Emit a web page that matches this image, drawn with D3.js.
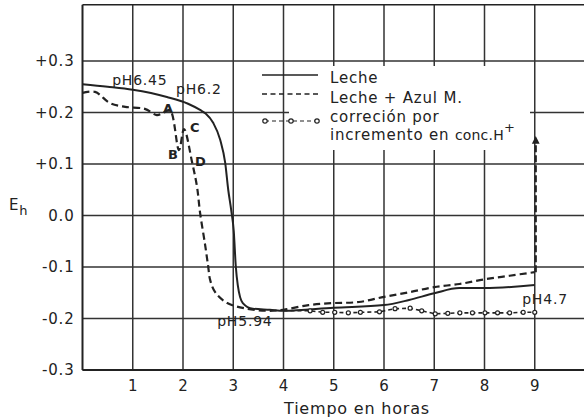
<!DOCTYPE html>
<html>
<head>
<meta charset="utf-8">
<script src="https://cdn.jsdelivr.net/npm/d3@7"></script>
<style>
  body { margin: 0; background: #fff; }
  text { font-family: "DejaVu Sans", sans-serif; fill: #222; letter-spacing: 0.8px; }
</style>
</head>
<body>
<div id="chart"></div>
<script>
const width = 584, height = 419;

// Leche (solid)
const lecheT = [0, 0.5, 1.0, 1.68, 2.1, 2.34, 2.45, 2.6, 2.74, 2.84, 2.9, 2.96, 3.01, 3.05, 3.09, 3.19, 3.39, 3.73, 4.0, 5.0, 6.0, 6.5, 7.0, 7.5, 8.0, 9.0];
const lecheV = [0.255, 0.25, 0.244, 0.230, 0.217, 0.205, 0.198, 0.180, 0.147, 0.102, 0.05, 0.01, -0.03, -0.098, -0.135, -0.170, -0.181, -0.183, -0.185, -0.179, -0.174, -0.164, -0.151, -0.141, -0.141, -0.135];

// Leche + Azul M. (dashed)
const azulT = [0, 0.25, 0.55, 0.85, 1.24, 1.48, 1.6, 1.74, 1.92, 2.02, 2.18, 2.28, 2.34, 2.44, 2.5, 2.54, 2.64, 2.88, 3.27, 3.67, 4.0, 4.5, 5.0, 5.5, 6.0, 6.5, 7.0, 7.5, 8.0, 8.5, 9.0];
const azulV = [0.238, 0.240, 0.218, 0.211, 0.207, 0.195, 0.199, 0.205, 0.127, 0.168, 0.104, 0.055, 0.005, -0.057, -0.098, -0.125, -0.149, -0.170, -0.181, -0.185, -0.183, -0.174, -0.170, -0.168, -0.158, -0.149, -0.139, -0.133, -0.124, -0.117, -0.110];

// correccion por incremento en conc. H+ (o--o--o)
const corrT = [4.0, 4.53, 4.78, 5.02, 5.29, 5.53, 5.91, 6.22, 6.52, 6.75, 7.02, 7.27, 7.51, 7.76, 8.01, 8.26, 8.5, 8.77, 9.0];
const corrV = [-0.185, -0.185, -0.188, -0.188, -0.189, -0.188, -0.187, -0.181, -0.180, -0.185, -0.191, -0.190, -0.189, -0.189, -0.189, -0.189, -0.189, -0.188, -0.188];

// jump at 9 h
const jumpT = [9, 9];
const jumpV = [-0.110, 0.147];

const xTicks = [1, 2, 3, 4, 5, 6, 7, 8, 9];
const yTicks = [-0.3, -0.2, -0.1, 0.0, 0.1, 0.2, 0.3];
const yTickLabels = ["-0.3", "-0.2", "-0.1", "0.0", "+0.1", "+0.2", "+0.3"];

const noteT = [0.59, 1.86, 2.68, 8.75, 1.60, 1.70, 2.14, 2.24];
const noteV = [0.253, 0.236, -0.215, -0.172, 0.199, 0.110, 0.162, 0.096];
const noteText = ["pH6.45", "pH6.2", "pH5.94", "pH4.7", "A", "B", "C", "D"];

const x = d3.scaleLinear().domain([0, 10]).range([82.5, 585]);
const y = d3.scaleLinear().domain([-0.3, 0.3]).range([370, 61]);
const yTop = 0.409;

const svg = d3.select("#chart").append("svg")
  .attr("width", width)
  .attr("height", height);

const ink = "#222";

// grid
svg.append("g").selectAll("line").data(xTicks).enter().append("line")
  .attr("x1", d => x(d)).attr("x2", d => x(d))
  .attr("y1", y(yTop)).attr("y2", y(-0.3))
  .attr("stroke", "#333").attr("stroke-width", 1.5);

svg.append("g").selectAll("line").data(yTicks).enter().append("line")
  .attr("x1", x(0)).attr("x2", width)
  .attr("y1", d => y(d)).attr("y2", d => y(d))
  .attr("stroke", "#333").attr("stroke-width", 1.5);

// frame
svg.append("line").attr("x1", x(0)).attr("x2", x(0)).attr("y1", y(yTop)).attr("y2", y(-0.3))
  .attr("stroke", ink).attr("stroke-width", 2);
svg.append("line").attr("x1", x(0)).attr("x2", width).attr("y1", y(yTop)).attr("y2", y(yTop))
  .attr("stroke", ink).attr("stroke-width", 1.5);
svg.append("line").attr("x1", x(0)).attr("x2", width).attr("y1", y(-0.3)).attr("y2", y(-0.3))
  .attr("stroke", ink).attr("stroke-width", 2);

// legend box (hides the grid behind it)
svg.append("rect")
  .attr("x", 289).attr("y", 66).attr("width", 241).attr("height", 84)
  .attr("fill", "#fff");

// axes labels
const yAxis = d3.axisLeft(y).tickValues(yTicks)
  .tickFormat((d, i) => yTickLabels[i]).tickSize(0).tickPadding(8);
const gy = svg.append("g").attr("transform", `translate(${x(0)},0)`).call(yAxis);
gy.select(".domain").remove();
gy.selectAll("text").attr("font-size", 15).attr("font-family", null).attr("fill", null);

const xAxis = d3.axisBottom(x).tickValues(xTicks).tickFormat(d3.format("d")).tickSize(0).tickPadding(10);
const gx = svg.append("g").attr("transform", `translate(0,${y(-0.3)})`).call(xAxis);
gx.select(".domain").remove();
gx.selectAll("text").attr("font-size", 15).attr("font-family", null).attr("fill", null);

svg.append("text").attr("x", 357).attr("y", 414).attr("text-anchor", "middle")
  .attr("font-size", 16).text("Tiempo en horas");

const eh = svg.append("text").attr("x", 9).attr("y", 210).attr("font-size", 15);
eh.append("tspan").text("E");
eh.append("tspan").attr("dy", 5).attr("font-size", 13).text("h");

// curves
const lecheData = lecheT.map((t, i) => [t, lecheV[i]]);
const azulData = azulT.map((t, i) => [t, azulV[i]]);
const corrData = corrT.map((t, i) => [t, corrV[i]]);
const jumpData = jumpT.map((t, i) => [t, jumpV[i]]);

svg.append("path").datum(lecheData)
  .attr("fill", "none").attr("stroke", ink).attr("stroke-width", 2)
  .attr("d", d3.line().x(d => x(d[0])).y(d => y(d[1])).curve(d3.curveMonotoneX));

svg.append("path").datum(azulData)
  .attr("fill", "none").attr("stroke", ink).attr("stroke-width", 2.2)
  .attr("stroke-dasharray", "7,4")
  .attr("d", d3.line().x(d => x(d[0])).y(d => y(d[1])).curve(d3.curveCatmullRom.alpha(0.5)));

svg.append("path").datum(corrData)
  .attr("fill", "none").attr("stroke", ink).attr("stroke-width", 1.6)
  .attr("stroke-dasharray", "4,3")
  .attr("d", d3.line().x(d => x(d[0])).y(d => y(d[1])));

svg.append("g").selectAll("circle").data(corrData.slice(1)).enter().append("circle")
  .attr("cx", d => x(d[0])).attr("cy", d => y(d[1])).attr("r", 2)
  .attr("fill", "#fff").attr("stroke", ink).attr("stroke-width", 1.2);

svg.append("defs").append("marker")
  .attr("id", "arrow").attr("viewBox", "0 0 10 10")
  .attr("refX", 5).attr("refY", 5).attr("markerWidth", 3.5).attr("markerHeight", 4)
  .attr("orient", "auto")
  .append("path").attr("d", "M0,0L10,5L0,10Z").attr("fill", ink);

svg.append("path").datum(jumpData)
  .attr("fill", "none").attr("stroke", ink).attr("stroke-width", 2.2)
  .attr("stroke-dasharray", "7,3")
  .attr("transform", "translate(1,0)")
  .attr("marker-end", "url(#arrow)")
  .attr("d", d3.line().x(d => x(d[0])).y(d => y(d[1])));

// annotations
svg.append("g").selectAll("text").data(noteText).enter().append("text")
  .attr("x", (d, i) => x(noteT[i])).attr("y", (d, i) => y(noteV[i]))
  .attr("font-size", (d, i) => d.length === 1 ? 13 : 14)
  .attr("font-weight", (d, i) => d.length === 1 ? "bold" : "normal")
  .attr("letter-spacing", (d, i) => d.length === 1 ? 0 : 0.6)
  .text(d => d);

// legend
const lg = svg.append("g");
lg.append("line").attr("x1", 262).attr("x2", 318).attr("y1", 75).attr("y2", 75)
  .attr("stroke", ink).attr("stroke-width", 1.5);
lg.append("line").attr("x1", 262).attr("x2", 318).attr("y1", 94).attr("y2", 94)
  .attr("stroke", ink).attr("stroke-width", 1.5).attr("stroke-dasharray", "5,3.5");
lg.append("line").attr("x1", 265).attr("x2", 317).attr("y1", 121).attr("y2", 121)
  .attr("stroke", ink).attr("stroke-width", 1.2).attr("stroke-dasharray", "4,3");
lg.selectAll("circle").data([265, 291, 317]).enter().append("circle")
  .attr("cx", d => d).attr("cy", 121).attr("r", 2.2)
  .attr("fill", "#fff").attr("stroke", ink).attr("stroke-width", 1.2);

lg.append("text").attr("x", 330).attr("y", 83).attr("font-size", 15).text("Leche");
lg.append("text").attr("x", 330).attr("y", 103).attr("font-size", 15).text("Leche + Azul M.");
lg.append("text").attr("x", 330).attr("y", 122).attr("font-size", 15).text("correción por");
const l4 = lg.append("text").attr("x", 330).attr("y", 140).attr("font-size", 15);
l4.append("tspan").text("incremento en ");
l4.append("tspan").attr("font-size", 14).attr("letter-spacing", 0.2).text("conc.H");
l4.append("tspan").attr("dy", -8).attr("font-size", 13).text("+");
</script>
</body>
</html>
